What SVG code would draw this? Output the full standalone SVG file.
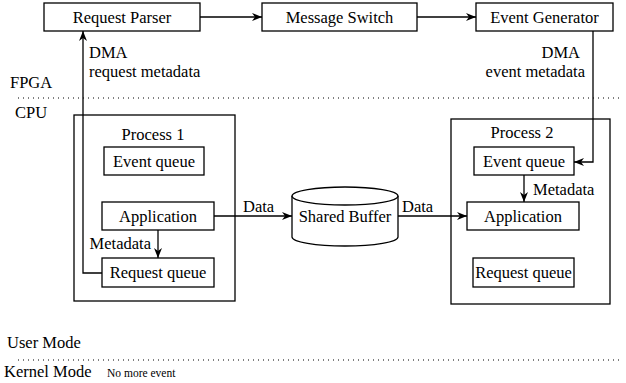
<svg xmlns="http://www.w3.org/2000/svg" width="626" height="383" viewBox="0 0 626 383">
  <style>
    .t { font-family: "Liberation Serif", "DejaVu Serif", serif; font-size: 16.5px; fill: #000; }
    .c { text-anchor: middle; }
    .r { text-anchor: end; }
    .small { font-size: 11.5px; }
    .box { fill: #fff; stroke: #000; stroke-width: 1.3; }
    .frame { fill: none; stroke: #000; stroke-width: 1.3; }
    .arrow { fill: none; stroke: #000; stroke-width: 1.3; marker-end: url(#head); }
    .sep { stroke: #000; stroke-width: 1.2; stroke-dasharray: 1 4; }
  </style>
  <defs>
    <marker id="head" viewBox="0 0 10 8" refX="10" refY="4" markerWidth="10" markerHeight="8" markerUnits="userSpaceOnUse" orient="auto">
      <path d="M0,0 L10,4 L0,8 L3,4 z" fill="#000"/>
    </marker>
  </defs>

  <rect width="626" height="383" fill="#fff"/>

  <g class="t">
  <!-- FPGA / CPU boundary -->
  <g id="fpga-cpu-boundary">
    <text x="10" y="88">FPGA</text>
    <line class="sep" x1="18" y1="98" x2="622" y2="98"/>
    <text x="15" y="118">CPU</text>
  </g>

  <!-- user / kernel boundary -->
  <g id="user-kernel-boundary">
    <text x="7" y="348">User Mode</text>
    <line class="sep" x1="18" y1="360" x2="620" y2="360"/>
    <text x="4" y="377">Kernel Mode</text>
    <text class="small" x="107" y="377">No more event</text>
  </g>

  <!-- process containers -->
  <g id="process1">
    <rect class="frame" x="74" y="115" width="161" height="186"/>
    <text class="c" x="153" y="140">Process 1</text>
  </g>
  <g id="process2">
    <rect class="frame" x="451" y="119" width="159" height="185"/>
    <text class="c" x="522" y="138">Process 2</text>
  </g>

  <!-- FPGA pipeline -->
  <g id="request-parser">
    <rect class="box" x="44" y="3" width="156" height="28"/>
    <text class="c" x="122" y="23">Request Parser</text>
  </g>
  <g id="message-switch">
    <rect class="box" x="262" y="3" width="155" height="28"/>
    <text class="c" x="339.5" y="23">Message Switch</text>
  </g>
  <g id="event-generator">
    <rect class="box" x="476" y="3" width="137" height="28"/>
    <text class="c" x="544.5" y="23">Event Generator</text>
  </g>

  <!-- process 1 contents -->
  <g id="p1-event-queue">
    <rect class="box" x="104" y="147" width="100" height="28"/>
    <text class="c" x="154" y="167">Event queue</text>
  </g>
  <g id="p1-application">
    <rect class="box" x="102" y="202" width="112" height="28"/>
    <text class="c" x="158" y="222">Application</text>
  </g>
  <g id="p1-request-queue">
    <rect class="box" x="102" y="258" width="112" height="29"/>
    <text class="c" x="158" y="278">Request queue</text>
  </g>

  <!-- process 2 contents -->
  <g id="p2-event-queue">
    <rect class="box" x="474" y="147" width="100" height="28"/>
    <text class="c" x="524" y="167">Event queue</text>
  </g>
  <g id="p2-application">
    <rect class="box" x="467" y="202" width="112" height="28"/>
    <text class="c" x="523" y="222">Application</text>
  </g>
  <g id="p2-request-queue">
    <rect class="box" x="473" y="258" width="101" height="29"/>
    <text class="c" x="523.5" y="278">Request queue</text>
  </g>

  <!-- shared buffer cylinder -->
  <g id="shared-buffer">
    <path class="box" d="M292,196 L292,237 A53,9 0 0 0 398,237 L398,196"/>
    <ellipse class="box" cx="345" cy="196" rx="53" ry="9"/>
    <text class="c" x="345" y="222">Shared Buffer</text>
  </g>

  <!-- connectors -->
  <g id="connectors">
    <line class="arrow" x1="200" y1="17" x2="262" y2="17"/>
    <line class="arrow" x1="417" y1="17" x2="476" y2="17"/>
    <polyline class="arrow" points="102,273 83,273 83,31"/>
    <polyline class="arrow" points="593,31 593,162 574,162"/>
    <line class="arrow" x1="158" y1="230" x2="158" y2="258"/>
    <line class="arrow" x1="524" y1="175" x2="524" y2="202"/>
    <line class="arrow" x1="214" y1="216" x2="292" y2="216"/>
    <line class="arrow" x1="398" y1="216" x2="467" y2="216"/>
  </g>

  <!-- connector labels -->
  <g id="connector-labels">
    <text x="89" y="58">DMA</text>
    <text x="89" y="77">request metadata</text>
    <text class="r" x="580" y="58">DMA</text>
    <text class="r" x="585" y="77">event metadata</text>
    <text class="r" x="151" y="249">Metadata</text>
    <text x="533" y="195">Metadata</text>
    <text x="243" y="212">Data</text>
    <text x="402" y="212">Data</text>
  </g>
  </g>
</svg>
